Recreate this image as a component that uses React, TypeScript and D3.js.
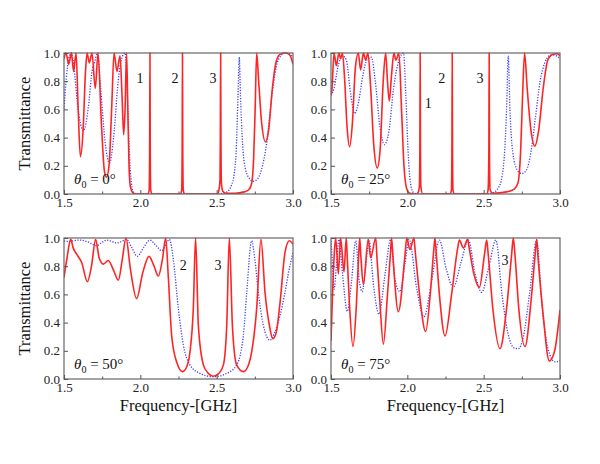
import React, { useEffect, useRef } from 'react';
import * as d3 from 'd3';

type Pt = [number, number];

// axis ticks
const xTicks = [1.5, 2.0, 2.5, 3.0];
const xMinorTicks = [1.75, 2.25, 2.75];
const yTicks = [0, 0.2, 0.4, 0.6, 0.8, 1.0];

// incidence angles (deg) for the four panels
const angles = ['0', '25', '50', '75'];

// theta = 0
const red0: Pt[] = [
  [1.500, 0.96], [1.513, 1.0], [1.531, 0.92], [1.548, 1.0], [1.563, 0.87], [1.579, 1.0],
  [1.593, 0.6], [1.607, 0.265], [1.625, 0.45], [1.640, 0.85], [1.651, 1.0], [1.666, 0.93],
  [1.683, 1.0], [1.705, 0.75], [1.723, 1.0], [1.745, 0.5], [1.765, 0.16], [1.778, 0.12],
  [1.795, 0.2], [1.812, 0.6], [1.828, 1.0], [1.847, 0.87], [1.867, 0.98], [1.880, 0.7],
  [1.891, 0.42], [1.900, 0.6], [1.910, 1.0], [1.918, 0.6], [1.926, 0.2], [1.935, 0.05],
  [1.950, 0.01], [1.970, 0.0], [2.050, 0.0], [2.058, 0.03], [2.061, 0.3], [2.063, 1.0],
  [2.065, 0.3], [2.068, 0.03], [2.076, 0.0], [2.263, 0.0], [2.271, 0.03], [2.274, 0.3],
  [2.276, 1.0], [2.278, 0.3], [2.281, 0.03], [2.289, 0.0], [2.505, 0.0], [2.515, 0.03],
  [2.522, 0.1], [2.524, 0.4], [2.526, 1.0], [2.528, 0.4], [2.531, 0.08], [2.540, 0.02],
  [2.560, 0.005], [2.620, 0.005], [2.680, 0.015], [2.710, 0.03], [2.730, 0.08], [2.742, 0.25],
  [2.752, 0.6], [2.762, 1.0], [2.775, 0.8], [2.795, 0.5], [2.820, 0.37], [2.840, 0.45],
  [2.865, 0.75], [2.890, 0.94], [2.915, 0.99], [2.950, 1.0], [2.975, 0.99], [2.990, 0.96],
  [3.000, 0.92],
];
const blue0: Pt[] = [
  [1.500, 0.60], [1.515, 0.82], [1.530, 0.96], [1.548, 1.0], [1.565, 0.9], [1.590, 0.62],
  [1.628, 0.45], [1.660, 0.62], [1.685, 0.88], [1.700, 0.93], [1.718, 1.0], [1.740, 0.75],
  [1.770, 0.36], [1.798, 0.22], [1.825, 0.4], [1.855, 0.8], [1.875, 0.95], [1.900, 1.0],
  [1.915, 0.7], [1.930, 0.25], [1.945, 0.05], [1.960, 0.005], [2.000, 0.0], [2.500, 0.0],
  [2.560, 0.01], [2.600, 0.07], [2.625, 0.25], [2.640, 0.7], [2.648, 0.97], [2.656, 0.7],
  [2.670, 0.35], [2.690, 0.17], [2.715, 0.11], [2.740, 0.09], [2.770, 0.11], [2.800, 0.2],
  [2.830, 0.38], [2.860, 0.68], [2.890, 0.9], [2.920, 0.98], [2.950, 1.0], [2.980, 0.99],
  [3.000, 0.97],
];

// theta = 25
const red25: Pt[] = [
  [1.500, 0.70], [1.506, 0.74], [1.520, 1.0], [1.535, 0.91], [1.552, 1.0], [1.563, 0.96],
  [1.575, 1.0], [1.590, 0.8], [1.605, 0.48], [1.622, 0.335], [1.640, 0.5], [1.660, 0.9],
  [1.679, 1.0], [1.694, 0.88], [1.712, 1.0], [1.727, 0.95], [1.742, 1.0], [1.760, 0.75],
  [1.780, 0.35], [1.803, 0.185], [1.822, 0.32], [1.842, 0.8], [1.858, 1.0], [1.870, 0.8],
  [1.882, 0.66], [1.897, 0.85], [1.912, 1.0], [1.925, 0.95], [1.945, 1.0], [1.962, 0.6],
  [1.978, 0.2], [1.995, 0.04], [2.015, 0.005], [2.060, 0.0], [2.070, 0.01], [2.079, 0.05],
  [2.082, 0.3], [2.084, 1.0], [2.086, 0.3], [2.089, 0.05], [2.100, 0.0], [2.281, 0.0],
  [2.289, 0.03], [2.292, 0.3], [2.294, 1.0], [2.296, 0.3], [2.299, 0.03], [2.307, 0.0],
  [2.520, 0.0], [2.529, 0.03], [2.534, 0.3], [2.536, 1.0], [2.538, 0.3], [2.542, 0.03],
  [2.560, 0.005], [2.650, 0.015], [2.700, 0.035], [2.725, 0.08], [2.742, 0.3], [2.755, 0.7],
  [2.768, 1.0], [2.785, 0.75], [2.810, 0.45], [2.835, 0.34], [2.860, 0.45], [2.890, 0.75],
  [2.920, 0.95], [2.950, 0.99], [2.980, 0.995], [3.000, 0.98],
];
const blue25: Pt[] = [
  [1.500, 0.70], [1.520, 0.75], [1.545, 0.9], [1.575, 0.98], [1.600, 0.95], [1.630, 0.7],
  [1.655, 0.57], [1.680, 0.65], [1.710, 0.85], [1.735, 0.95], [1.765, 0.97], [1.790, 0.8],
  [1.820, 0.48], [1.850, 0.35], [1.880, 0.45], [1.910, 0.75], [1.945, 0.95], [1.975, 1.0],
  [1.990, 0.7], [2.005, 0.3], [2.020, 0.08], [2.040, 0.01], [2.070, 0.0], [2.500, 0.0],
  [2.550, 0.005], [2.600, 0.05], [2.630, 0.2], [2.650, 0.6], [2.661, 0.98], [2.672, 0.6],
  [2.690, 0.3], [2.720, 0.17], [2.750, 0.145], [2.780, 0.17], [2.810, 0.3], [2.840, 0.55],
  [2.870, 0.8], [2.900, 0.93], [2.930, 0.98], [2.960, 0.985], [3.000, 0.96],
];

// theta = 50
const red50: Pt[] = [
  [1.500, 0.72], [1.520, 0.86], [1.544, 0.99], [1.560, 0.93], [1.583, 0.885], [1.616, 0.826],
  [1.653, 0.69], [1.680, 0.8], [1.707, 0.99], [1.730, 0.86], [1.758, 0.815], [1.790, 0.84],
  [1.825, 0.77], [1.856, 0.70], [1.882, 0.85], [1.906, 1.0], [1.935, 0.78], [1.976, 0.57],
  [2.015, 0.75], [2.057, 0.87], [2.090, 0.8], [2.118, 0.73], [2.145, 0.85], [2.166, 1.0],
  [2.183, 0.73], [2.205, 0.31], [2.238, 0.12], [2.277, 0.052], [2.305, 0.09], [2.325, 0.19],
  [2.347, 0.50], [2.362, 1.0], [2.380, 0.38], [2.413, 0.10], [2.445, 0.04], [2.478, 0.02],
  [2.515, 0.04], [2.544, 0.1], [2.566, 0.38], [2.583, 1.0], [2.603, 0.38], [2.631, 0.1],
  [2.675, 0.052], [2.705, 0.09], [2.729, 0.19], [2.762, 0.5], [2.790, 0.99], [2.817, 0.61],
  [2.849, 0.36], [2.867, 0.285], [2.890, 0.33], [2.915, 0.54], [2.948, 0.90], [2.976, 0.98],
  [3.000, 0.955],
];
const blue50: Pt[] = [
  [1.500, 0.98], [1.530, 0.975], [1.560, 0.98], [1.600, 0.985], [1.650, 0.975], [1.680, 0.96],
  [1.714, 0.945], [1.750, 0.97], [1.780, 0.985], [1.815, 0.975], [1.845, 0.965], [1.875, 0.975],
  [1.910, 0.99], [1.945, 0.93], [1.980, 0.87], [2.020, 0.93], [2.063, 0.985], [2.100, 0.95],
  [2.140, 0.91], [2.170, 0.96], [2.190, 0.99], [2.216, 0.85], [2.249, 0.50], [2.282, 0.24],
  [2.325, 0.10], [2.390, 0.04], [2.478, 0.016], [2.566, 0.04], [2.631, 0.10], [2.660, 0.2],
  [2.675, 0.31], [2.697, 0.615], [2.729, 0.98], [2.750, 0.85], [2.773, 0.615], [2.806, 0.38],
  [2.849, 0.275], [2.880, 0.33], [2.915, 0.45], [2.945, 0.6], [2.970, 0.75], [3.000, 0.90],
];

// theta = 75
const red75: Pt[] = [
  [1.500, 0.27], [1.510, 0.6], [1.522, 0.9], [1.531, 1.0], [1.548, 0.746], [1.563, 1.0],
  [1.585, 0.76], [1.600, 1.0], [1.607, 0.85], [1.620, 0.55], [1.644, 0.23], [1.665, 0.5],
  [1.680, 0.85], [1.688, 1.0], [1.695, 0.88], [1.712, 0.67], [1.744, 0.99], [1.760, 0.86],
  [1.793, 1.0], [1.800, 0.88], [1.820, 0.55], [1.843, 0.247], [1.870, 0.6], [1.890, 0.9],
  [1.897, 1.0], [1.905, 0.88], [1.941, 0.478], [1.985, 0.88], [1.996, 1.0], [2.017, 0.918],
  [2.043, 1.0], [2.052, 0.9], [2.080, 0.6], [2.120, 0.337], [2.150, 0.6], [2.172, 0.9],
  [2.181, 1.0], [2.190, 0.88], [2.210, 0.6], [2.247, 0.305], [2.290, 0.6], [2.330, 0.93],
  [2.341, 0.985], [2.367, 0.93], [2.395, 0.99], [2.405, 0.93], [2.435, 0.75], [2.472, 0.65],
  [2.505, 0.88], [2.520, 0.985], [2.530, 0.88], [2.560, 0.5], [2.607, 0.215], [2.650, 0.5],
  [2.683, 0.88], [2.694, 1.0], [2.705, 0.88], [2.730, 0.5], [2.771, 0.23], [2.810, 0.55],
  [2.837, 0.88], [2.847, 0.99], [2.857, 0.85], [2.890, 0.45], [2.930, 0.127], [2.965, 0.2],
  [3.000, 0.49],
];
const blue75: Pt[] = [
  [1.500, 0.98], [1.508, 0.85], [1.520, 0.635], [1.535, 0.8], [1.552, 0.99], [1.575, 0.75],
  [1.607, 0.48], [1.635, 0.7], [1.662, 0.98], [1.685, 0.7], [1.705, 0.62], [1.725, 0.78],
  [1.749, 0.98], [1.780, 0.65], [1.814, 0.46], [1.855, 0.75], [1.891, 0.99], [1.920, 0.7],
  [1.952, 0.62], [1.985, 0.82], [2.012, 0.99], [2.060, 0.65], [2.109, 0.44], [2.160, 0.7],
  [2.210, 0.985], [2.255, 0.78], [2.301, 0.65], [2.350, 0.82], [2.400, 0.985], [2.445, 0.74],
  [2.487, 0.615], [2.535, 0.8], [2.580, 0.985], [2.620, 0.6], [2.660, 0.32], [2.700, 0.22],
  [2.727, 0.215], [2.760, 0.3], [2.800, 0.6], [2.847, 0.985], [2.880, 0.55], [2.920, 0.22],
  [2.967, 0.122], [3.000, 0.13],
];

// defect-mode labels: [text, frequency, transmittance]
const marks0: [string, number, number][] = [['1', 1.998, 0.79], ['2', 2.227, 0.79], ['3', 2.476, 0.79]];
const marks25: [string, number, number][] = [['2', 2.225, 0.79], ['3', 2.476, 0.79], ['1', 2.137, 0.61]];
const marks50: [string, number, number][] = [['2', 2.281, 0.77], ['3', 2.509, 0.77]];
const marks75: [string, number, number][] = [['3', 2.64, 0.81]];

const SERIF = 'Liberation Serif';

const App: React.FC = () => {
  const svgRef = useRef<SVGSVGElement>(null);

  useEffect(() => {
    const svg = d3.select(svgRef.current);
    svg.selectAll('*').remove();

    const w = 229;
    const h = 141;
    const panels = [
      { left: 64, top: 53, red: red0, blue: blue0, marks: marks0 },
      { left: 331, top: 53, red: red25, blue: blue25, marks: marks25 },
      { left: 64, top: 238, red: red50, blue: blue50, marks: marks50 },
      { left: 331, top: 238, red: red75, blue: blue75, marks: marks75 },
    ];

    panels.forEach((p, i) => {
      const x = d3.scaleLinear().domain([1.5, 3.0]).range([p.left, p.left + w]);
      const y = d3.scaleLinear().domain([0, 1]).range([p.top + h, p.top]);
      const g = svg.append('g');

      g.append('clipPath').attr('id', `clip${i}`)
        .append('rect').attr('x', p.left).attr('y', p.top - 1).attr('width', w).attr('height', h + 1);

      const line = d3.line<Pt>()
        .x(d => x(d[0]))
        .y(d => y(d[1]))
        .curve(d3.curveMonotoneX);

      g.append('path').datum(p.blue)
        .attr('clip-path', `url(#clip${i})`)
        .attr('d', line)
        .attr('fill', 'none')
        .attr('stroke', '#3b3bff')
        .attr('stroke-width', 1.3)
        .attr('stroke-dasharray', '1.2,1.5');

      g.append('path').datum(p.red)
        .attr('clip-path', `url(#clip${i})`)
        .attr('d', line)
        .attr('fill', 'none')
        .attr('stroke', '#ff2424')
        .attr('stroke-width', 1.6);

      // frame
      g.append('rect')
        .attr('x', p.left).attr('y', p.top).attr('width', w).attr('height', h)
        .attr('fill', 'none').attr('stroke', '#666').attr('stroke-width', 1.2);

      const xAxis = g.append('g').attr('transform', `translate(0,${p.top + h})`)
        .call(d3.axisBottom(x).tickValues(xTicks).tickSize(-4).tickPadding(4).tickFormat(d3.format('.1f')));
      const xMinor = g.append('g').attr('transform', `translate(0,${p.top + h})`)
        .call(d3.axisBottom(x).tickValues(xMinorTicks).tickSize(-2.5).tickFormat(() => ''));
      const yAxis = g.append('g').attr('transform', `translate(${p.left},0)`)
        .call(d3.axisLeft(y).tickValues(yTicks).tickSize(-4).tickPadding(4).tickFormat(d3.format('.1f')));

      [xAxis, xMinor, yAxis].forEach(a => {
        a.attr('font-family', SERIF).attr('font-size', 13);
        a.select('.domain').remove();
        a.selectAll('line').attr('stroke', '#555').attr('stroke-width', 1);
        a.selectAll('text').attr('fill', '#222');
      });

      // mode labels
      p.marks.forEach(([t, f, v]) => {
        g.append('text').attr('x', x(f)).attr('y', y(v))
          .attr('text-anchor', 'middle')
          .attr('font-family', SERIF).attr('font-size', 14).attr('fill', '#111')
          .text(t);
      });

      // incidence angle
      const lab = g.append('text')
        .attr('x', p.left + 10).attr('y', p.top + h - 10)
        .attr('font-family', SERIF).attr('font-size', 15).attr('fill', '#111');
      lab.append('tspan').attr('font-style', 'italic').text('θ');
      lab.append('tspan').attr('font-size', 10).attr('dy', 4).text('0');
      lab.append('tspan').attr('dy', -4).text(` = ${angles[i]}°`);

      // axis titles
      if (i % 2 === 0) {
        g.append('text')
          .attr('transform', `translate(30,${p.top + h / 2}) rotate(-90)`)
          .attr('text-anchor', 'middle')
          .attr('font-family', SERIF).attr('font-size', 16.5).attr('fill', '#111')
          .text('Transmittance');
      }
      if (i >= 2) {
        g.append('text')
          .attr('x', p.left + w / 2).attr('y', 411)
          .attr('text-anchor', 'middle')
          .attr('font-family', SERIF).attr('font-size', 16.5).attr('fill', '#111')
          .text('Frequency-[GHz]');
      }
    });
  }, []);

  return (
    <svg
      ref={svgRef}
      width={600}
      height={464}
      style={{ position: 'absolute', left: 0, top: 0, background: '#fff' }}
    />
  );
};

export default App;
